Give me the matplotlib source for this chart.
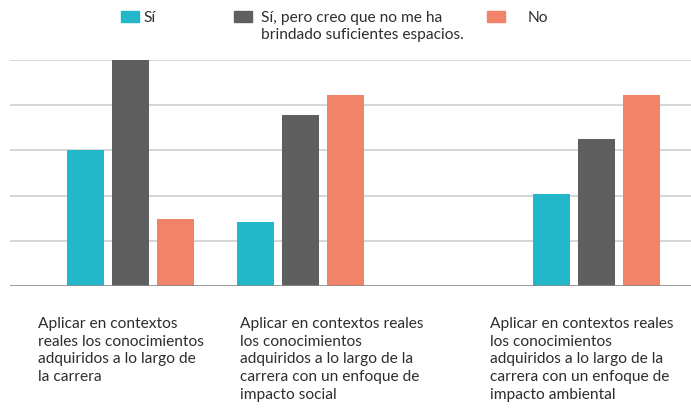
import matplotlib.pyplot as plt

# Datos del gráfico
categories = [
    "Aplicar en contextos\nreales los conocimientos\nadquiridos a lo largo de\nla carrera",
    "Aplicar en contextos reales\nlos conocimientos\nadquiridos a lo largo de la\ncarrera con un enfoque de\nimpacto social",
    "Aplicar en contextos reales\nlos conocimientos\nadquiridos a lo largo de la\ncarrera con un enfoque de\nimpacto ambiental",
]
series_names = ["Sí", "Sí, pero creo que no me ha\nbrindado suficientes espacios.", "No"]
si = [3.0, 1.42, 2.04]
si_pero = [5.0, 3.79, 3.26]
no = [1.48, 4.23, 4.23]

colors = ["#22B7C9", "#5F5F5F", "#F08368"]
plt.rcParams['font.family'] = ['Lato', 'DejaVu Sans']

fig = plt.figure(figsize=(6.91, 4.12), dpi=100)
ax = fig.add_axes([10 / 691, 126 / 412, 681 / 691, 226 / 412])

# posiciones de los grupos (layout, en píxeles del eje)
centers = [120, 290, 586]
step = 45
width = 37
for i, (vals, c) in enumerate(zip([si, si_pero, no], colors)):
    ax.bar([x + (i - 1) * step for x in centers], vals, width=width, color=c, zorder=2)

ax.set_xlim(0, 681)
ax.set_ylim(0, 5)
ax.set_yticks([1, 2, 3, 4, 5])
ax.yaxis.grid(True, color="#D0D0D0", linewidth=1.2, zorder=0)
ax.axhline(0, color="#8A8A8A", linewidth=1.2, zorder=3)
ax.tick_params(left=False, bottom=False, labelleft=False, labelbottom=False)
for s in ax.spines.values():
    s.set_visible(False)

# etiquetas de categorías
label_x = [38, 240, 490]
for x, t in zip(label_x, categories):
    fig.text(x / 691, 1 - 317 / 412, t, ha="left", va="top", fontsize=11.2,
             color="#2E2E2E", linespacing=1.33)

# leyenda manual
sq_x = [121, 234, 487]
txt_x = [143, 261, 528]
for sx, tx, name, c in zip(sq_x, txt_x, series_names, colors):
    fig.patches.append(plt.Rectangle((sx / 691, 1 - 22 / 412), 18 / 691, 11 / 412,
                                     transform=fig.transFigure, color=c))
    fig.text(tx / 691, 1 - 11 / 412, name, ha="left", va="top", fontsize=11.2,
             color="#2E2E2E", linespacing=1.3)

fig.savefig("out.png", dpi=100)
